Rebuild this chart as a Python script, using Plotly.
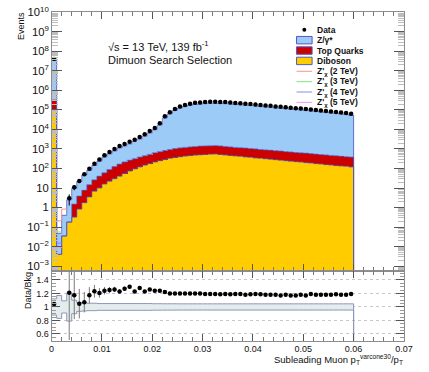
import numpy as np
import plotly.graph_objects as go

# ---------------------------------------------------------------- binning
bin_width = 0.001
n_bins = 60
edges = np.arange(n_bins + 1) * bin_width
centers = edges[:-1] + bin_width / 2

# ---------------------------------------------------------------- yields per bin
data_events = [41000000, 0, 0, 3, 11, 23, 50, 96, 175, 290,
               480, 700, 1000, 1400, 1800, 2350, 3000, 4150, 5600, 8300,
               12000, 21000, 47000, 76000, 112000, 151000, 178000, 209000, 234000, 240000,
               251000, 263000, 263000, 257000, 251000, 240000, 229000, 219000, 209000, 200000,
               191000, 178000, 170000, 162000, 151000, 145000, 138000, 129000, 123000, 117000,
               110000, 105000, 100000, 93000, 89000, 83000, 79000, 74000, 69000, 63000]

zgamma = [39000000, 0.043, 0.365, 2.3, 7.9, 18.1, 39.1, 67, 116, 200,
          327, 471, 668, 972, 1203, 1545, 2123, 2862, 4106, 6062,
          9046, 16211, 37693, 62400, 92286, 124711, 147131, 172908, 193682, 198620,
          209511, 219563, 219500, 214600, 209550, 200440, 191200, 182850, 176000, 167050,
          159500, 148670, 143210, 136450, 127190, 123120, 116180, 109610, 104440, 98570,
          93400, 87630, 84160, 78290, 74910, 69830, 65950, 62280, 58100, 52520]

top_quarks = [220000, 0, 0, 0, 1.16, 3.0, 5.8, 11.3, 19.2, 30,
              44, 67, 96, 126, 158, 189, 221, 260, 299, 347,
              417, 473, 544, 602, 684, 724, 775, 802, 839, 879,
              888, 908, 929, 888, 859, 791, 765, 731, 707, 675,
              653, 602, 575, 556, 531, 513, 473, 458, 437, 417,
              403, 384, 359, 343, 332, 317, 306, 282, 269, 260]

diboson = [100000, 0.004, 0.035, 0.18, 0.32, 0.83, 1.78, 3.5, 6.8, 10,
           16, 22, 30, 40, 56, 74, 95, 120, 148, 178,
           214, 251, 288, 331, 363, 398, 427, 457, 479, 501,
           525, 537, 550, 525, 490, 468, 437, 417, 389, 372,
           347, 331, 316, 295, 282, 263, 251, 234, 224, 214,
           200, 191, 178, 170, 158, 151, 141, 135, 129, 120]

# relative uncertainty of the background prediction
bkg_rel_unc = [0.12, 0.17, 0.09, 0.21, 0.10, 0.065, 0.06, 0.055, 0.055, 0.05,
               0.05, 0.05, 0.05, 0.05, 0.05, 0.05, 0.05, 0.05, 0.05, 0.05,
               0.048, 0.048, 0.047, 0.047, 0.047, 0.046, 0.046, 0.046, 0.046, 0.046,
               0.046, 0.046, 0.046, 0.046, 0.046, 0.046, 0.046, 0.046, 0.046, 0.046,
               0.046, 0.046, 0.046, 0.046, 0.046, 0.046, 0.046, 0.046, 0.046, 0.046,
               0.046, 0.046, 0.046, 0.046, 0.046, 0.046, 0.046, 0.046, 0.046, 0.046]

# Z' signal yields, non-empty bins only (first bin index, values)
signals = [
    ("Z'<sub>χ</sub> (2 TeV)", "#ff8f8f", 1, [0.21, 0.83]),
    ("Z'<sub>χ</sub> (3 TeV)", "#7ee87e", 1, [0.056]),
    ("Z'<sub>χ</sub> (4 TeV)", "#8a8aff", 1, [0.015]),
    ("Z'<sub>χ</sub> (5 TeV)", "#ff8cff", 1, [0.009]),
]

x_tick_values = [0, 0.01, 0.02, 0.03, 0.04, 0.05, 0.06, 0.07]
x_tick_labels = ["0", "0.01", "0.02", "0.03", "0.04", "0.05", "0.06", "0.07"]
ratio_tick_values = [0.6, 0.8, 1.0, 1.2, 1.4]
ratio_tick_labels = ["0.6", "0.8", "1", "1.2", "1.4"]

# ---------------------------------------------------------------- derived
data = np.array(data_events, dtype=float)
dib = np.array(diboson)
cum_top = dib + np.array(top_quarks)
cum_all = cum_top + np.array(zgamma)
has_data = data > 0
data_plot = np.where(has_data, data, np.nan)
data_err = np.where(has_data, np.sqrt(data), np.nan)
ratio = np.where(has_data, data / cum_all, np.nan)
ratio_err = np.where(has_data, np.sqrt(data) / cum_all, np.nan)
unc = np.array(bkg_rel_unc)

# ---------------------------------------------------------------- style
W, H = 429, 372
FONT = "Liberation Sans, Arial, Helvetica, sans-serif"
C_Z, C_TOP, C_DIB = "#9dcbf7", "#cc0000", "#ffcc00"
C_EDGE = "#5656bd"
C_FRAME = "#8c8c8c"
LOG_FLOOR = 1e-6


def px(xp):
    return xp / W


def py(yp):
    return 1 - yp / H


def step(values, floor=None):
    xs = list(edges) + ([edges[-1]] if floor is not None else [])
    ys = list(values) + [values[-1]] + ([floor] if floor is not None else [])
    return xs, ys


fig = go.Figure()

# stacked background: each layer drawn from the axis bottom to its cumulative height
for cum, color in [(cum_all, C_Z), (cum_top, C_TOP), (dib, C_DIB)]:
    fig.add_trace(go.Bar(x=centers, y=cum, width=bin_width, marker=dict(color=color, line=dict(width=0)),
                         xaxis="x", yaxis="y", hoverinfo="skip"))

# ratio-panel uncertainty band
fig.add_trace(go.Bar(x=centers, y=2 * unc, base=1 - unc, width=bin_width,
                     marker=dict(color="#e4eded", line=dict(width=0)),
                     xaxis="x2", yaxis="y2", hoverinfo="skip"))

for cum in [cum_all, cum_top, dib]:
    xs, ys = step(cum, LOG_FLOOR)
    fig.add_trace(go.Scatter(x=xs, y=ys, mode="lines", line=dict(color=C_EDGE, width=0.8, shape="hv"),
                             xaxis="x", yaxis="y", hoverinfo="skip"))

for name, color, b0, vals in signals:
    xs = list(edges[b0:b0 + len(vals) + 1])
    ys = list(vals) + [vals[-1]]
    fig.add_trace(go.Scatter(x=xs, y=ys, mode="lines", line=dict(color=color, width=1, shape="hv"),
                             xaxis="x", yaxis="y", hoverinfo="skip"))

fig.add_trace(go.Scatter(x=centers, y=data_plot, mode="markers",
                         marker=dict(color="black", size=4.5),
                         error_y=dict(type="data", array=data_err, color="black", thickness=1, width=0),
                         xaxis="x", yaxis="y", hoverinfo="skip"))

for sign in (1, -1):
    xs, ys = step(1 + sign * unc, 0.0)
    fig.add_trace(go.Scatter(x=xs, y=ys, mode="lines", line=dict(color="#8e95b8", width=1, shape="hv"),
                             xaxis="x2", yaxis="y2", hoverinfo="skip"))

fig.add_trace(go.Scatter(x=centers, y=ratio, mode="markers",
                         marker=dict(color="black", size=4.5),
                         error_y=dict(type="data", array=ratio_err, color="#7a7a7a", thickness=1, width=0),
                         xaxis="x2", yaxis="y2", hoverinfo="skip"))

# ---------------------------------------------------------------- axes
x_dom = [px(50), px(412.5)]
tickfont = dict(family=FONT, size=9, color="#111")
common_x = dict(range=[0, 0.07], domain=x_dom, showline=True, linecolor=C_FRAME, linewidth=1,
                mirror="ticks", ticks="inside", ticklen=7, tickcolor="#555",
                tickvals=x_tick_values, ticktext=x_tick_labels,
                minor=dict(ticks="inside", ticklen=4, dtick=0.002, tick0=0, tickcolor="#777"),
                showgrid=False, zeroline=False, tickfont=tickfont)

fig.update_layout(
    width=W, height=H, margin=dict(l=0, r=0, t=0, b=0),
    paper_bgcolor="white", plot_bgcolor="white",
    barmode="overlay", bargap=0, showlegend=False,
    font=dict(family=FONT, color="#111"),
    xaxis=dict(**common_x, anchor="y", showticklabels=False),
    xaxis2=dict(**common_x, anchor="y2", matches="x"),
    yaxis=dict(type="log", range=[-3.26, 10.02], domain=[py(270), py(5)], anchor="x",
               showline=True, linecolor=C_FRAME, linewidth=1, mirror="ticks",
               ticks="inside", ticklen=10, tickcolor="#555", dtick=1, exponentformat="power",
               ticklabeloverflow="allow",
               minor=dict(ticks="inside", ticklen=6, dtick="D1", tickcolor="#bdbdbd"),
               showgrid=False, zeroline=False, tickfont=tickfont),
    yaxis2=dict(range=[0.5, 1.53], domain=[py(341), py(270)], anchor="x2",
                showline=True, linecolor=C_FRAME, linewidth=1, mirror="ticks",
                ticks="inside", ticklen=8, tickcolor="#555",
                tickvals=ratio_tick_values, ticktext=ratio_tick_labels,
                minor=dict(ticks="inside", ticklen=4, dtick=0.05, tick0=0, tickcolor="#999"),
                showgrid=True, gridcolor="#c8c8c8", griddash="dot", gridwidth=1,
                zeroline=False, tickfont=tickfont),
)

# ---------------------------------------------------------------- labels
annotations = [
    dict(x=px(18), y=py(19), text="Events", textangle=-90, font=dict(size=9)),
    dict(x=px(25), y=py(290), text="Data/Bkg", textangle=-90, font=dict(size=9)),
    dict(x=px(414), y=py(360), text="Subleading Muon p<sub>T</sub><sup>varcone30</sup>/p<sub>T</sub>",
         xanchor="right", font=dict(size=9.5)),
    dict(x=px(106), y=py(40), text="√s = 13 TeV, 139 fb<sup>-1</sup>", xanchor="left", font=dict(size=11)),
    dict(x=px(106), y=py(54), text="Dimuon Search Selection", xanchor="left", font=dict(size=11)),
]

legend_rows = ["Data", "Z/γ*", "Top Quarks", "Diboson"] + [s[0] for s in signals]
row0, drow = 23.3, 10.6
shapes = []
for i, label in enumerate(legend_rows):
    yc = row0 + i * drow
    annotations.append(dict(x=px(321), y=py(yc), text="<b>" + label + "</b>", xanchor="left",
                            font=dict(size=8.5)))
    if i == 0:
        shapes.append(dict(type="circle", xref="paper", yref="paper", x0=px(308), x1=px(312),
                           y0=py(yc + 2), y1=py(yc - 2), fillcolor="black", line=dict(width=0)))
    elif i <= 3:
        fill = [C_Z, C_TOP, C_DIB][i - 1]
        shapes.append(dict(type="rect", xref="paper", yref="paper", x0=px(302), x1=px(318),
                           y0=py(yc + 3.8), y1=py(yc - 3.8), fillcolor=fill,
                           line=dict(color=C_EDGE, width=1)))
    else:
        shapes.append(dict(type="line", xref="paper", yref="paper", x0=px(302), x1=px(318),
                           y0=py(yc), y1=py(yc), line=dict(color=signals[i - 4][1], width=1)))

for a in annotations:
    a.setdefault("xref", "paper")
    a.setdefault("yref", "paper")
    a.setdefault("showarrow", False)
    a.setdefault("xanchor", "center")
    a.setdefault("yanchor", "middle")
    a["font"].setdefault("family", FONT)
    a["font"].setdefault("color", "#111")

fig.update_layout(annotations=annotations, shapes=shapes)

fig.write_html("out.html")
